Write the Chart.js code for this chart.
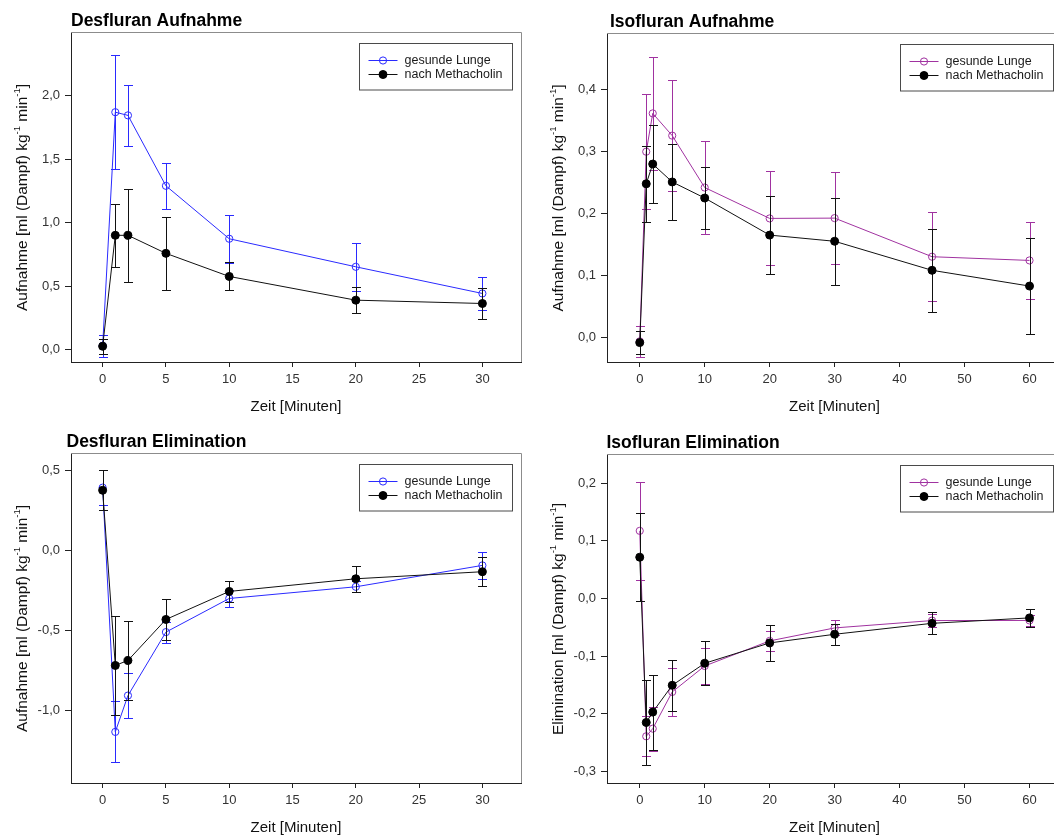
<!DOCTYPE html>
<html>
<head>
<meta charset="utf-8">
<script src="https://cdn.jsdelivr.net/npm/chart.js@4/dist/chart.umd.min.js"></script>
<style>
  html, body { margin: 0; padding: 0; background: #fff; }
  #board { position: relative; width: 1054px; height: 836px; overflow: hidden; background: #fff; }
  #board canvas { position: absolute; }
</style>
</head>
<body>
<div id="board">
  <canvas id="desAuf" width="530" height="420" style="left:0;top:0"></canvas>
  <canvas id="isoAuf" width="540" height="420" style="left:530px;top:0"></canvas>
  <canvas id="desElim" width="530" height="416" style="left:0;top:420px"></canvas>
  <canvas id="isoElim" width="540" height="416" style="left:530px;top:420px"></canvas>
</div>
<script>
// Zeitpunkte (Minuten)
const desTimes = [0, 1, 2, 5, 10, 20, 30];
const isoTimes = [0, 1, 2, 5, 10, 20, 30, 45, 60];

// Desfluran Aufnahme: Mittelwert und Standardabweichung
const desAufGesund   = [0.03, 1.87, 1.845, 1.29, 0.873, 0.652, 0.442];
const desAufGesundSD = [0.085, 0.45, 0.24, 0.18, 0.19, 0.19, 0.13];
const desAufMetha    = [0.026, 0.90, 0.90, 0.758, 0.576, 0.389, 0.363];
const desAufMethaSD  = [0.06, 0.25, 0.365, 0.29, 0.11, 0.10, 0.12];

// Isofluran Aufnahme
const isoAufGesund   = [-0.007, 0.300, 0.362, 0.326, 0.242, 0.192, 0.1925, 0.130, 0.124];
const isoAufGesundSD = [0.025, 0.093, 0.091, 0.09, 0.075, 0.076, 0.074, 0.072, 0.062];
const isoAufMetha    = [-0.009, 0.248, 0.280, 0.251, 0.225, 0.165, 0.155, 0.108, 0.0825];
const isoAufMethaSD  = [0.018, 0.062, 0.063, 0.062, 0.05, 0.0625, 0.07, 0.067, 0.077];

// Desfluran Elimination
const desElimGesund   = [0.394, -1.131, -0.904, -0.508, -0.298, -0.225, -0.0915];
const desElimGesundSD = [0.107, 0.19, 0.14, 0.065, 0.053, 0.035, 0.085];
const desElimMetha    = [0.3775, -0.716, -0.685, -0.429, -0.254, -0.175, -0.131];
const desElimMethaSD  = [0.125, 0.31, 0.244, 0.13, 0.067, 0.08, 0.09];

// Isofluran Elimination
const isoElimGesund   = [0.1174, -0.239, -0.2257, -0.162, -0.117, -0.0735, -0.051, -0.0382, -0.038];
const isoElimGesundSD = [0.085, 0.035, 0.038, 0.041, 0.031, 0.017, 0.013, 0.011, 0.01];
const isoElimMetha    = [0.0717, -0.215, -0.197, -0.1505, -0.1123, -0.077, -0.062, -0.043, -0.0336];
const isoElimMethaSD  = [0.076, 0.074, 0.065, 0.044, 0.038, 0.031, 0.018, 0.019, 0.016];

// Achsenbeschriftungen
const xTicksDes = [0, 5, 10, 15, 20, 25, 30];
const xTicksIso = [0, 10, 20, 30, 40, 50, 60];
const yTicksDesAuf = [0, 0.5, 1.0, 1.5, 2.0];
const yTicksIsoAuf = [0, 0.1, 0.2, 0.3, 0.4];
const yTicksDesElim = [-1.0, -0.5, 0, 0.5];
const yTicksIsoElim = [-0.3, -0.2, -0.1, 0, 0.1, 0.2];

const seriesNames = ['gesunde Lunge', 'nach Methacholin'];
const xTitle = 'Zeit [Minuten]';
// ungerade Indizes werden hochgestellt
const yTitleAufnahme = ['Aufnahme [ml (Dampf) kg', '-1', ' min', '-1', ']'];
const yTitleElimination = ['Elimination [ml (Dampf) kg', '-1', ' min', '-1', ']'];

const FONT = '"Liberation Sans", Arial, Helvetica, sans-serif';
const BLUE = '#2a2aff';
const PURPLE = '#a032a0';
const BLACK = '#111111';

const fmtDe = (v) => {
  const s = (Math.abs(v) < 1e-9 ? 0 : v).toFixed(1);
  return s.replace('.', ',');
};

const points = (xs, ys) => xs.map((x, i) => ({ x: x, y: ys[i] }));

// Fehlerbalken (± SD) vor jedem Datensatz zeichnen
const errorBars = {
  id: 'errorBars',
  beforeDatasetDraw(chart, args) {
    const ds = chart.data.datasets[args.index];
    if (!ds.errors) return;
    const ctx = chart.ctx;
    const xs = chart.scales.x, ys = chart.scales.y;
    ctx.save();
    ctx.strokeStyle = ds.borderColor;
    ctx.lineWidth = 1;
    ds.data.forEach((p, i) => {
      const e = ds.errors[i];
      const px = Math.round(xs.getPixelForValue(p.x)) + 0.5;
      const top = Math.round(ys.getPixelForValue(p.y + e)) + 0.5;
      const bot = Math.round(ys.getPixelForValue(p.y - e)) + 0.5;
      ctx.beginPath();
      ctx.moveTo(px, top); ctx.lineTo(px, bot);
      ctx.moveTo(px - 4.5, top); ctx.lineTo(px + 4.5, top);
      ctx.moveTo(px - 4.5, bot); ctx.lineTo(px + 4.5, bot);
      ctx.stroke();
    });
    ctx.restore();
  }
};

// Rahmen, Titel, Achsentitel und Legende
const decor = {
  id: 'decor',
  beforeDatasetsDraw(chart) {
    const { left, top, right, bottom } = chart.chartArea;
    const ctx = chart.ctx;
    ctx.save();
    ctx.strokeStyle = '#8c8c8c';
    ctx.lineWidth = 1;
    ctx.beginPath();
    ctx.moveTo(left, Math.round(top) - 0.5);
    ctx.lineTo(Math.round(right) + 0.5, Math.round(top) - 0.5);
    ctx.lineTo(Math.round(right) + 0.5, bottom);
    ctx.stroke();
    ctx.restore();
  },
  afterDraw(chart, args, o) {
    const { left, top, right, bottom } = chart.chartArea;
    const ctx = chart.ctx;
    ctx.save();

    // Titel
    ctx.fillStyle = '#000';
    ctx.font = 'bold 17.5px ' + FONT;
    ctx.textAlign = 'left';
    ctx.textBaseline = 'alphabetic';
    ctx.fillText(o.title, left + o.titleDx, top - 7);

    // x-Achsentitel
    ctx.fillStyle = '#111';
    ctx.font = '15px ' + FONT;
    ctx.textAlign = 'center';
    ctx.textBaseline = 'middle';
    ctx.fillText(xTitle, (left + right) / 2, bottom + 45);

    // y-Achsentitel mit Hochstellungen
    const parts = o.yTitle;
    const big = '15.5px ' + FONT, small = '9.5px ' + FONT;
    let total = 0;
    parts.forEach((t, i) => {
      ctx.font = i % 2 ? small : big;
      total += ctx.measureText(t).width;
    });
    ctx.translate(left - 48, (top + bottom) / 2);
    ctx.rotate(-Math.PI / 2);
    ctx.textAlign = 'left';
    ctx.textBaseline = 'middle';
    let cx = -total / 2;
    parts.forEach((t, i) => {
      ctx.font = i % 2 ? small : big;
      ctx.fillText(t, cx, i % 2 ? -6 : 0);
      cx += ctx.measureText(t).width;
    });
    ctx.setTransform(1, 0, 0, 1, 0, 0);

    // Legende
    const bw = 153, bh = 46.5;
    const bx = Math.round(right - 9 - bw) + 0.5;
    const by = Math.round(top + 10) + 0.5;
    ctx.fillStyle = '#fff';
    ctx.fillRect(bx, by, bw, bh);
    ctx.strokeStyle = '#4a4a4a';
    ctx.lineWidth = 1;
    ctx.strokeRect(bx, by, bw, bh);
    ctx.font = '12.5px ' + FONT;
    ctx.textBaseline = 'middle';
    ctx.textAlign = 'left';
    const entries = [chart.data.datasets[1], chart.data.datasets[0]];
    entries.forEach((ds, i) => {
      const ly = Math.round(by + 16 + i * 14) + 0.5;
      ctx.strokeStyle = ds.borderColor;
      ctx.beginPath();
      ctx.moveTo(bx + 9, ly); ctx.lineTo(bx + 38, ly);
      ctx.stroke();
      ctx.beginPath();
      ctx.arc(bx + 23.5, ly, ds.pointRadius, 0, Math.PI * 2);
      ctx.fillStyle = ds.pointBackgroundColor;
      ctx.fill();
      ctx.strokeStyle = ds.pointBorderColor;
      ctx.stroke();
      ctx.fillStyle = '#1a1a1a';
      ctx.fillText(ds.label, bx + 45, ly);
    });
    ctx.restore();
  }
};

function makePanel(p) {
  const datasets = [
    {
      label: seriesNames[1],
      data: points(p.times, p.metha),
      errors: p.methaSD,
      borderColor: BLACK,
      borderWidth: 1,
      pointRadius: 4,
      pointBackgroundColor: '#000',
      pointBorderColor: '#000',
      pointBorderWidth: 1,
      tension: 0,
      order: 0
    },
    {
      label: seriesNames[0],
      data: points(p.times, p.gesund),
      errors: p.gesundSD,
      borderColor: p.color,
      borderWidth: 1,
      pointRadius: 3.6,
      pointBackgroundColor: 'rgba(255,255,255,0)',
      pointBorderColor: p.color,
      pointBorderWidth: 1,
      tension: 0,
      order: 1
    }
  ];

  return new Chart(document.getElementById(p.id), {
    type: 'line',
    data: { datasets: datasets },
    options: {
      responsive: false,
      animation: false,
      events: [],
      layout: { padding: { left: 0, top: p.top, right: p.right, bottom: 0 } },
      plugins: {
        legend: { display: false },
        tooltip: { enabled: false },
        decor: { title: p.title, titleDx: p.titleDx, yTitle: p.yTitle }
      },
      scales: {
        x: {
          type: 'linear',
          min: p.xMin, max: p.xMax,
          afterFit: (s) => { s.height = p.xH; },
          afterBuildTicks: (s) => { s.ticks = p.xTicks.map((v) => ({ value: v })); },
          grid: { drawOnChartArea: false, drawTicks: true, tickLength: 5, tickColor: '#222' },
          border: { display: true, color: '#222', width: 1 },
          ticks: {
            padding: 5, maxRotation: 0, autoSkip: false,
            color: '#333', font: { family: FONT, size: 13 },
            callback: (v) => String(v)
          }
        },
        y: {
          type: 'linear',
          min: p.yMin, max: p.yMax,
          afterFit: (s) => { s.width = p.yW; },
          afterBuildTicks: (s) => { s.ticks = p.yTicks.map((v) => ({ value: v })); },
          grid: { drawOnChartArea: false, drawTicks: true, tickLength: 6, tickColor: '#222' },
          border: { display: true, color: '#222', width: 1 },
          ticks: {
            padding: 5, autoSkip: false,
            color: '#333', font: { family: FONT, size: 13 },
            callback: (v) => fmtDe(v)
          }
        }
      }
    },
    plugins: [errorBars, decor]
  });
}

makePanel({
  id: 'desAuf', title: 'Desfluran Aufnahme', titleDx: 0, yTitle: yTitleAufnahme,
  times: desTimes, gesund: desAufGesund, gesundSD: desAufGesundSD,
  metha: desAufMetha, methaSD: desAufMethaSD, color: BLUE,
  xMin: -2.5, xMax: 33.05, xTicks: xTicksDes,
  yMin: -0.098, yMax: 2.494, yTicks: yTicksDesAuf,
  top: 33, right: 9, yW: 71, xH: 58
});

makePanel({
  id: 'isoAuf', title: 'Isofluran Aufnahme', titleDx: 3, yTitle: yTitleAufnahme,
  times: isoTimes, gesund: isoAufGesund, gesundSD: isoAufGesundSD,
  metha: isoAufMetha, methaSD: isoAufMethaSD, color: PURPLE,
  xMin: -5.04, xMax: 65, xTicks: xTicksIso,
  yMin: -0.0404, yMax: 0.4905, yTicks: yTicksIsoAuf,
  top: 34, right: 8, yW: 77, xH: 58
});

makePanel({
  id: 'desElim', title: 'Desfluran Elimination', titleDx: -4.5, yTitle: yTitleAufnahme,
  times: desTimes, gesund: desElimGesund, gesundSD: desElimGesundSD,
  metha: desElimMetha, methaSD: desElimMethaSD, color: BLUE,
  xMin: -2.5, xMax: 33.05, xTicks: xTicksDes,
  yMin: -1.45, yMax: 0.604, yTicks: yTicksDesElim,
  top: 34, right: 9, yW: 71, xH: 53
});

makePanel({
  id: 'isoElim', title: 'Isofluran Elimination', titleDx: -0.5, yTitle: yTitleElimination,
  times: isoTimes, gesund: isoElimGesund, gesundSD: isoElimGesundSD,
  metha: isoElimMetha, methaSD: isoElimMethaSD, color: PURPLE,
  xMin: -5.04, xMax: 65, xTicks: xTicksIso,
  yMin: -0.32, yMax: 0.249, yTicks: yTicksIsoElim,
  top: 35, right: 8, yW: 77, xH: 53
});
</script>
</body>
</html>
